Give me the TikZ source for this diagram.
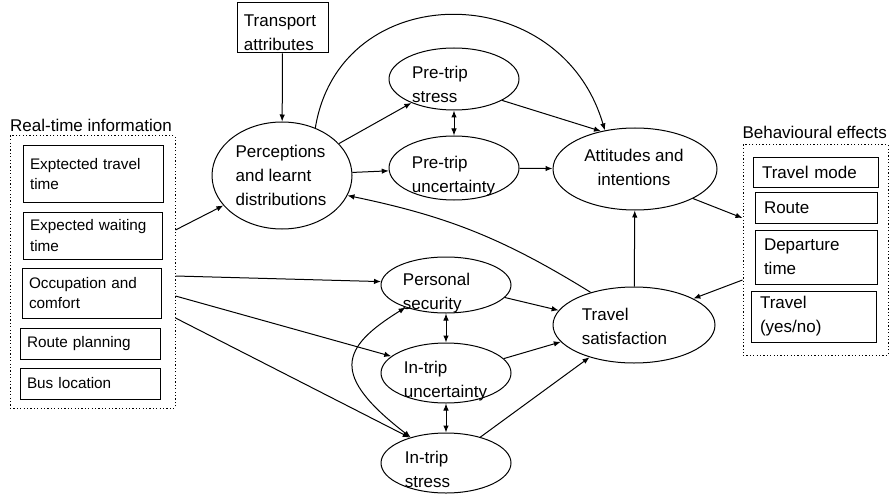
\documentclass[tikz,border=0pt]{standalone}
\usepackage{fontspec}
\setmainfont{Liberation Sans}
\usetikzlibrary{arrows.meta,positioning,shapes.geometric,calc}

\begin{document}
\begin{tikzpicture}[x=1pt, y=-1pt, line width=1pt, >={Latex[length=7pt,width=5.5pt]},
    every node/.style={font=\fontsize{17}{24}\selectfont, inner sep=0pt},
    oval/.style={draw, ellipse},
    ovaltext/.style={align=left},
    infobox/.style={draw, align=left, inner xsep=7pt, text width=#1, font=\fontsize{15.3}{20.5}\selectfont},
    effectbox/.style={draw, align=left, inner xsep=9pt, text width=#1},
    groupbox/.style={draw, dash pattern=on 1.2pt off 2.2pt}]
        \useasboundingbox (0,0) rectangle (890,497);

        \node[groupbox, minimum width=165pt, minimum height=272pt] (rti) at (92.5,272) {};
        \node[anchor=base] (rtilabel) at (91,132) {Real-time information};
        \node[infobox=126pt, minimum height=56pt] (ett) at (93,174) {Exptected travel\\time};
        \node[infobox=125pt, minimum height=47pt] (ewt) at (92.5,235.5) {Expected waiting\\time};
        \node[infobox=125pt, minimum height=50pt] (occ) at (91.5,293) {Occupation and\\comfort};
        \node[infobox=126pt, minimum height=31pt] (rplan) at (90,343.5) {Route planning};
        \node[infobox=126pt, minimum height=31pt] (busloc) at (90,383.5) {Bus location};

        \node[draw, minimum width=91pt, minimum height=50pt] (trans) at (282.5,28) {};
        \node[ovaltext] (transt) at (280,33) {Transport\\attributes};

        \node[oval, minimum width=140pt, minimum height=107pt] (percep) at (282,175.5) {};
        \node[ovaltext] (percept) at (281,175) {Perceptions\\and learnt\\distributions};
        \node[oval, minimum width=130pt, minimum height=62pt] (pstress) at (454,79) {};
        \node[ovaltext] (pstresst) at (440,84) {Pre-trip\\stress};
        \node[oval, minimum width=130pt, minimum height=64pt] (puncert) at (454,168) {};
        \node[ovaltext] (puncertt) at (453.5,176) {Pre-trip\\uncertainty};
        \node[oval, minimum width=164pt, minimum height=82pt] (attit) at (635,169) {};
        \node[align=center] (attitt) at (634,167) {Attitudes and\\intentions};

        \node[oval, minimum width=130pt, minimum height=56pt] (psec) at (446,285) {};
        \node[ovaltext] (psect) at (436.5,293) {Personal\\security};
        \node[oval, minimum width=130pt, minimum height=60pt] (iunc) at (446,373) {};
        \node[ovaltext] (iunct) at (445.5,381) {In-trip\\uncertainty};
        \node[oval, minimum width=130pt, minimum height=60pt] (istr) at (446,463) {};
        \node[ovaltext] (istrt) at (427.5,469) {In-trip\\stress};
        \node[oval, minimum width=162pt, minimum height=76pt] (tsat) at (634,325) {};
        \node[ovaltext] (tsatt) at (624.5,326) {Travel\\satisfaction};

        \node[groupbox, minimum width=145pt, minimum height=210pt] (behv) at (815.5,250) {};
        \node[anchor=base west] (behvlabel) at (742,139) {Behavioural effects};
        \node[effectbox=107pt, minimum height=29pt] (tmode) at (815.5,172.5) {Travel mode};
        \node[effectbox=104pt, minimum height=31pt] (route) at (816,207.5) {Route};
        \node[effectbox=104pt, minimum height=54pt] (dept) at (816,257) {Departure\\time};
        \node[effectbox=107pt, minimum height=51pt] (tyn) at (813.5,316.5) {Travel\\(yes/no)};

        \draw[->] (trans) -- (percep);
        \draw[->] ($(rti.east)+(0,-42)$) -- (percep);
        \draw[->] (percep) -- (pstress);
        \draw[->] (percep) -- (puncert);
        \draw[<->] (pstress) -- (puncert);
        \draw[->] (pstress.-24) -- (attit.132);
        \draw[->] (puncert) -- (attit);
        \draw[->] (percep.55) .. controls (340,-23) and (560,-23) .. (attit.128);
        \draw[->] (attit.-27) -- ($(behv.west)+(0,-32)$);
        \draw[->] ($(behv.west)+(0,30)$) -- (tsat.24);
        \draw[->] (tsat) -- (attit);
        \draw[->] (tsat.143) to[bend right=10] (percep.-17);
        \draw[->] ($(rti.east)+(0,4)$) -- (psec.177);
        \draw[->] ($(rti.east)+(0,24)$) -- (iunc.163);
        \draw[->] ($(rti.east)+(0,46)$) -- (istr.145);
        \draw[<->] (psec) -- (iunc);
        \draw[<->] (iunc) -- (istr);
        \draw[<->] (psec.209) .. controls (340,348) and (330,375) .. (istr.144);
        \draw[->] (psec.-12) -- (tsat.169);
        \draw[->] (iunc.14) -- (tsat.193);
        \draw[->] (istr.37) -- (tsat.216);
    \end{tikzpicture}
\end{document}
